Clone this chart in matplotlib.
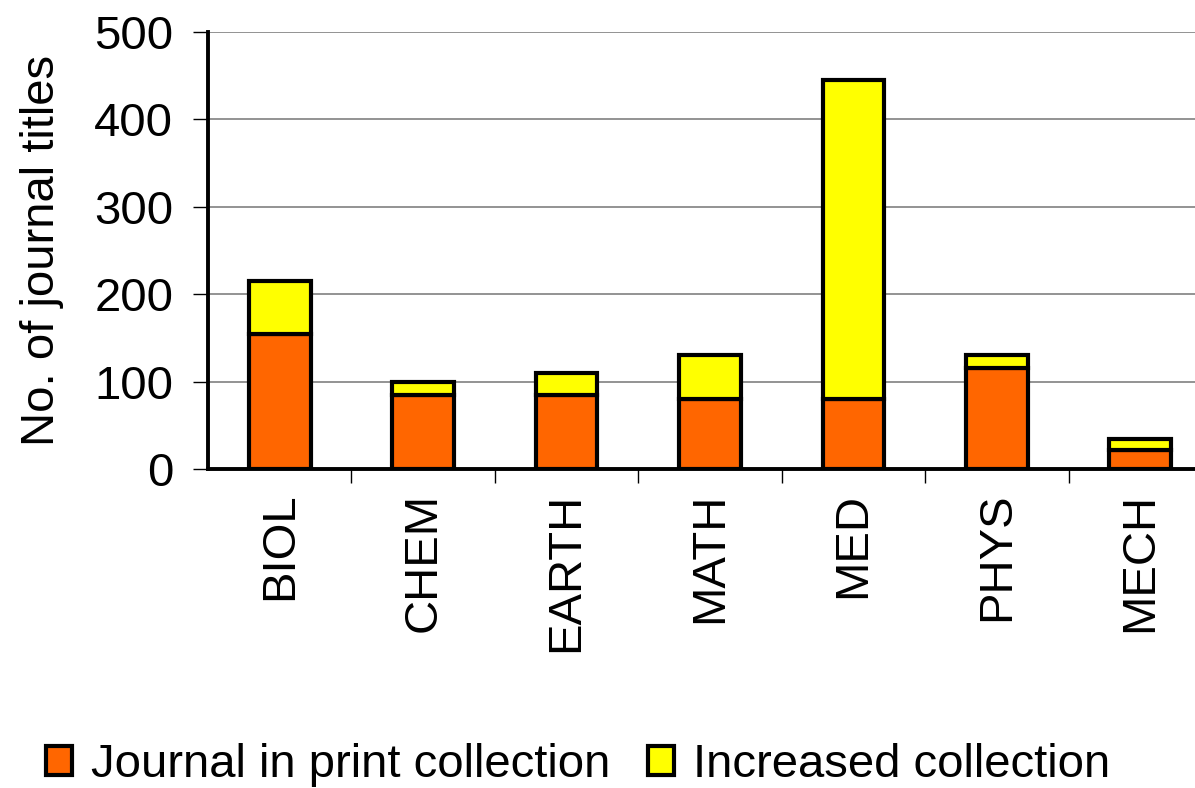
import matplotlib.pyplot as plt
import numpy as np

plt.rcParams['font.family'] = ['Liberation Sans', 'DejaVu Sans']

categories = ['BIOL', 'CHEM', 'EARTH', 'MATH', 'MED', 'PHYS', 'MECH']
in_print = [155, 85, 85, 80, 80, 115, 22]
increased = [60, 15, 25, 50, 365, 15, 12]

fig = plt.figure(figsize=(11.95, 7.88), dpi=100)
ax = fig.add_axes([208 / 1195, 1 - 469 / 788, 1004 / 1195, 437 / 788])

x = np.arange(len(categories))
w = 0.43
ax.bar(x, in_print, width=w, color='#FF6600', edgecolor='black', linewidth=3,
       label='Journal in print collection', zorder=3)
ax.bar(x, increased, width=w, bottom=in_print, color='#FFFF00', edgecolor='black',
       linewidth=3, label='Increased collection', zorder=3)

ax.set_xlim(-0.5, len(categories) - 0.5)
ax.set_ylim(0, 500)
ax.set_yticks([0, 100, 200, 300, 400, 500])
ax.yaxis.grid(True, color='#808080', linewidth=1.2, zorder=0)
ax.set_axisbelow(True)

ax.set_xticks(x)
ax.set_xticklabels(categories, rotation=90, fontsize=34)
ax.set_xticks(np.arange(len(categories)) + 0.5, minor=True)
ax.tick_params(axis='x', which='major', length=0, pad=17)
ax.tick_params(axis='x', which='minor', length=10, width=1.0, direction='out')
ax.tick_params(axis='y', labelsize=34, length=11, width=1.0, pad=14)

ax.set_ylabel('No. of journal titles', fontsize=34, labelpad=22)

for side in ['top', 'right']:
    ax.spines[side].set_visible(False)
for side in ['left', 'bottom']:
    ax.spines[side].set_linewidth(2.8)

fig.legend(loc='center', bbox_to_anchor=(578 / 1195, 1 - 765 / 788), ncol=2,
           frameon=False, fontsize=34, handlelength=0.55, handleheight=0.55,
           handletextpad=0.4, columnspacing=0.8)

fig.savefig('out.png', dpi=100)
